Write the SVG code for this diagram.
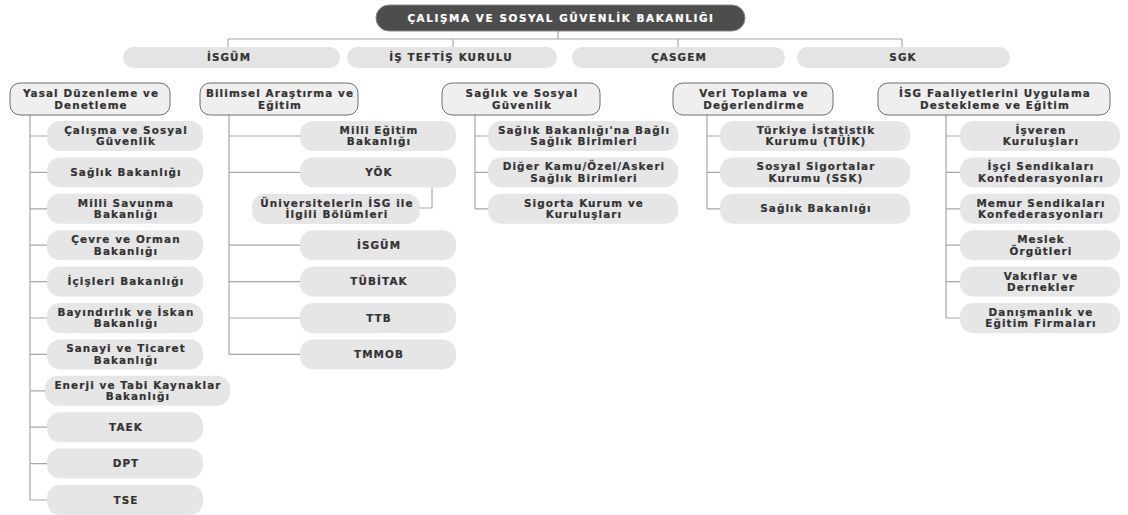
<svg xmlns="http://www.w3.org/2000/svg" width="1128" height="515" viewBox="0 0 1128 515">
<style>
text{font-family:"DejaVu Sans","Liberation Sans",sans-serif;font-weight:bold;font-size:10.4px;letter-spacing:1.1px;fill:#333333;stroke:#333333;stroke-width:0.2;text-anchor:middle}
.title{fill:#ffffff;stroke:#ffffff;letter-spacing:1.6px}
.top{fill:#4d4d4d;stroke:#888;stroke-width:1}
.pill{fill:#e4e4e4}
.head{fill:#efefef;stroke:#6e6e6e;stroke-width:1}
.box{fill:#e6e6e6}
.conn{fill:none;stroke:#a8a8a8;stroke-width:1.2}
</style>
<rect width="1128" height="515" fill="#ffffff"/>
<g id="connectors" class="conn">
<path d="M558,31V39M228,39H902M228,39V47M453,39V47M678,39V47M902,39V47"/>
<path d="M30,115V500M30,136H47M30,172.4H47M30,208.8H47M30,245.2H47M30,281.6H47M30,318H47M30,354.4H47M30,390.8H45M30,427.2H47M30,463.6H47M30,500H47"/>
<path d="M229,115V354.4M229,136H300M229,172.4H300M229,245.2H300M229,281.6H300M229,318H300M229,354.4H300M432,187.4V208H420"/>
<path d="M475,115V208.8M475,136H488M475,172.4H488M475,208.8H488"/>
<path d="M707,115V208.8M707,136H720M707,172.4H720M707,208.8H720"/>
<path d="M946,115V318M946,136H960M946,172.4H960M946,208.8H960M946,245.2H960M946,281.6H960M946,318H960"/>
</g>
<g id="bakanlik"><rect class="top" x="376" y="5" width="369" height="26" rx="13"/><text class="title" x="561" y="21.6">ÇALIŞMA VE SOSYAL GÜVENLİK BAKANLIĞI</text></g>
<g id="isgum-top"><rect class="pill" x="123" y="47" width="217" height="21" rx="10.5"/><text x="229" y="61">İSGÜM</text></g>
<g id="teftis"><rect class="pill" x="347" y="47" width="210" height="21" rx="10.5"/><text x="451" y="61">İŞ TEFTİŞ KURULU</text></g>
<g id="casgem"><rect class="pill" x="572" y="47" width="213" height="21" rx="10.5"/><text x="679" y="61">ÇASGEM</text></g>
<g id="sgk"><rect class="pill" x="797" y="47" width="213" height="21" rx="10.5"/><text x="903" y="61">SGK</text></g>

<g id="h1"><rect class="head" x="10" y="83" width="160" height="32" rx="10"/><text x="91" y="96.6">Yasal Düzenleme ve</text><text x="91" y="108.6">Denetleme</text></g>
<g id="h2"><rect class="head" x="200" y="83" width="158" height="32" rx="10"/><text x="280" y="96.6">Bilimsel Araştırma ve</text><text x="280" y="108.6">Eğitim</text></g>
<g id="h3"><rect class="head" x="442" y="83" width="158" height="32" rx="10"/><text x="522" y="96.6">Sağlık ve Sosyal</text><text x="522" y="108.6">Güvenlik</text></g>
<g id="h4"><rect class="head" x="673" y="83" width="160" height="32" rx="10"/><text x="754" y="96.6">Veri Toplama ve</text><text x="754" y="108.6">Değerlendirme</text></g>
<g id="h5"><rect class="head" x="878" y="83" width="232" height="32" rx="10"/><text x="995" y="96.6">İSG Faaliyetlerini Uygulama</text><text x="995" y="108.6">Destekleme ve Eğitim</text></g>

<g id="c1-1"><rect class="box" x="47" y="121" width="156" height="30" rx="13"/><text x="126" y="133.9">Çalışma ve Sosyal</text><text x="126" y="145.4">Güvenlik</text></g>
<g id="c1-2"><rect class="box" x="47" y="157.4" width="156" height="30" rx="13"/><text x="126" y="176">Sağlık Bakanlığı</text></g>
<g id="c1-3"><rect class="box" x="47" y="193.8" width="156" height="30" rx="13"/><text x="126" y="206.7">Milli Savunma</text><text x="126" y="218.2">Bakanlığı</text></g>
<g id="c1-4"><rect class="box" x="47" y="230.2" width="156" height="30" rx="13"/><text x="126" y="243.1">Çevre ve Orman</text><text x="126" y="254.6">Bakanlığı</text></g>
<g id="c1-5"><rect class="box" x="47" y="266.6" width="156" height="30" rx="13"/><text x="126" y="285.2">İçişleri Bakanlığı</text></g>
<g id="c1-6"><rect class="box" x="47" y="303" width="156" height="30" rx="13"/><text x="126" y="315.9">Bayındırlık ve İskan</text><text x="126" y="327.4">Bakanlığı</text></g>
<g id="c1-7"><rect class="box" x="47" y="339.4" width="156" height="30" rx="13"/><text x="126" y="352.3">Sanayi ve Ticaret</text><text x="126" y="363.8">Bakanlığı</text></g>
<g id="c1-8"><rect class="box" x="45" y="375.8" width="185" height="30" rx="13"/><text x="138" y="388.7">Enerji ve Tabi Kaynaklar</text><text x="138" y="400.2">Bakanlığı</text></g>
<g id="c1-9"><rect class="box" x="47" y="412.2" width="156" height="30" rx="13"/><text x="126" y="430.8">TAEK</text></g>
<g id="c1-10"><rect class="box" x="47" y="448.6" width="156" height="30" rx="13"/><text x="126" y="467.2">DPT</text></g>
<g id="c1-11"><rect class="box" x="47" y="485" width="156" height="30" rx="13"/><text x="126" y="503.6">TSE</text></g>

<g id="c2-1"><rect class="box" x="300" y="121" width="156" height="30" rx="13"/><text x="379" y="133.9">Milli Eğitim</text><text x="379" y="145.4">Bakanlığı</text></g>
<g id="c2-2"><rect class="box" x="300" y="157.4" width="156" height="30" rx="13"/><text x="379" y="176">YÖK</text></g>
<g id="c2-3"><rect class="box" x="252" y="194" width="168" height="30" rx="13"/><text x="337" y="206.9">Üniversitelerin İSG ile</text><text x="337" y="218.4">İlgili Bölümleri</text></g>
<g id="c2-4"><rect class="box" x="300" y="230.2" width="156" height="30" rx="13"/><text x="379" y="248.8">İSGÜM</text></g>
<g id="c2-5"><rect class="box" x="300" y="266.6" width="156" height="30" rx="13"/><text x="379" y="285.2">TÜBİTAK</text></g>
<g id="c2-6"><rect class="box" x="300" y="303" width="156" height="30" rx="13"/><text x="379" y="321.6">TTB</text></g>
<g id="c2-7"><rect class="box" x="300" y="339.4" width="156" height="30" rx="13"/><text x="379" y="358">TMMOB</text></g>

<g id="c3-1"><rect class="box" x="488" y="121" width="190" height="30" rx="13"/><text x="584" y="133.9">Sağlık Bakanlığı'na Bağlı</text><text x="584" y="145.4">Sağlık Birimleri</text></g>
<g id="c3-2"><rect class="box" x="488" y="157.4" width="190" height="30" rx="13"/><text x="584" y="170.3">Diğer Kamu/Özel/Askeri</text><text x="584" y="181.8">Sağlık Birimleri</text></g>
<g id="c3-3"><rect class="box" x="488" y="193.8" width="190" height="30" rx="13"/><text x="584" y="206.7">Sigorta Kurum ve</text><text x="584" y="218.2">Kuruluşları</text></g>

<g id="c4-1"><rect class="box" x="720" y="121" width="190" height="30" rx="13"/><text x="816" y="133.9">Türkiye İstatistik</text><text x="816" y="145.4">Kurumu (TÜİK)</text></g>
<g id="c4-2"><rect class="box" x="720" y="157.4" width="190" height="30" rx="13"/><text x="816" y="170.3">Sosyal Sigortalar</text><text x="816" y="181.8">Kurumu (SSK)</text></g>
<g id="c4-3"><rect class="box" x="720" y="193.8" width="190" height="30" rx="13"/><text x="816" y="212.4">Sağlık Bakanlığı</text></g>

<g id="c5-1"><rect class="box" x="960" y="121" width="160" height="30" rx="13"/><text x="1041" y="133.9">İşveren</text><text x="1041" y="145.4">Kuruluşları</text></g>
<g id="c5-2"><rect class="box" x="960" y="157.4" width="160" height="30" rx="13"/><text x="1041" y="170.3">İşçi Sendikaları</text><text x="1041" y="181.8">Konfederasyonları</text></g>
<g id="c5-3"><rect class="box" x="960" y="193.8" width="160" height="30" rx="13"/><text x="1041" y="206.7">Memur Sendikaları</text><text x="1041" y="218.2">Konfederasyonları</text></g>
<g id="c5-4"><rect class="box" x="960" y="230.2" width="160" height="30" rx="13"/><text x="1041" y="243.1">Meslek</text><text x="1041" y="254.6">Örgütleri</text></g>
<g id="c5-5"><rect class="box" x="960" y="266.6" width="160" height="30" rx="13"/><text x="1041" y="279.5">Vakıflar ve</text><text x="1041" y="291">Dernekler</text></g>
<g id="c5-6"><rect class="box" x="960" y="303" width="160" height="30" rx="13"/><text x="1041" y="315.9">Danışmanlık ve</text><text x="1041" y="327.4">Eğitim Firmaları</text></g>
</svg>
